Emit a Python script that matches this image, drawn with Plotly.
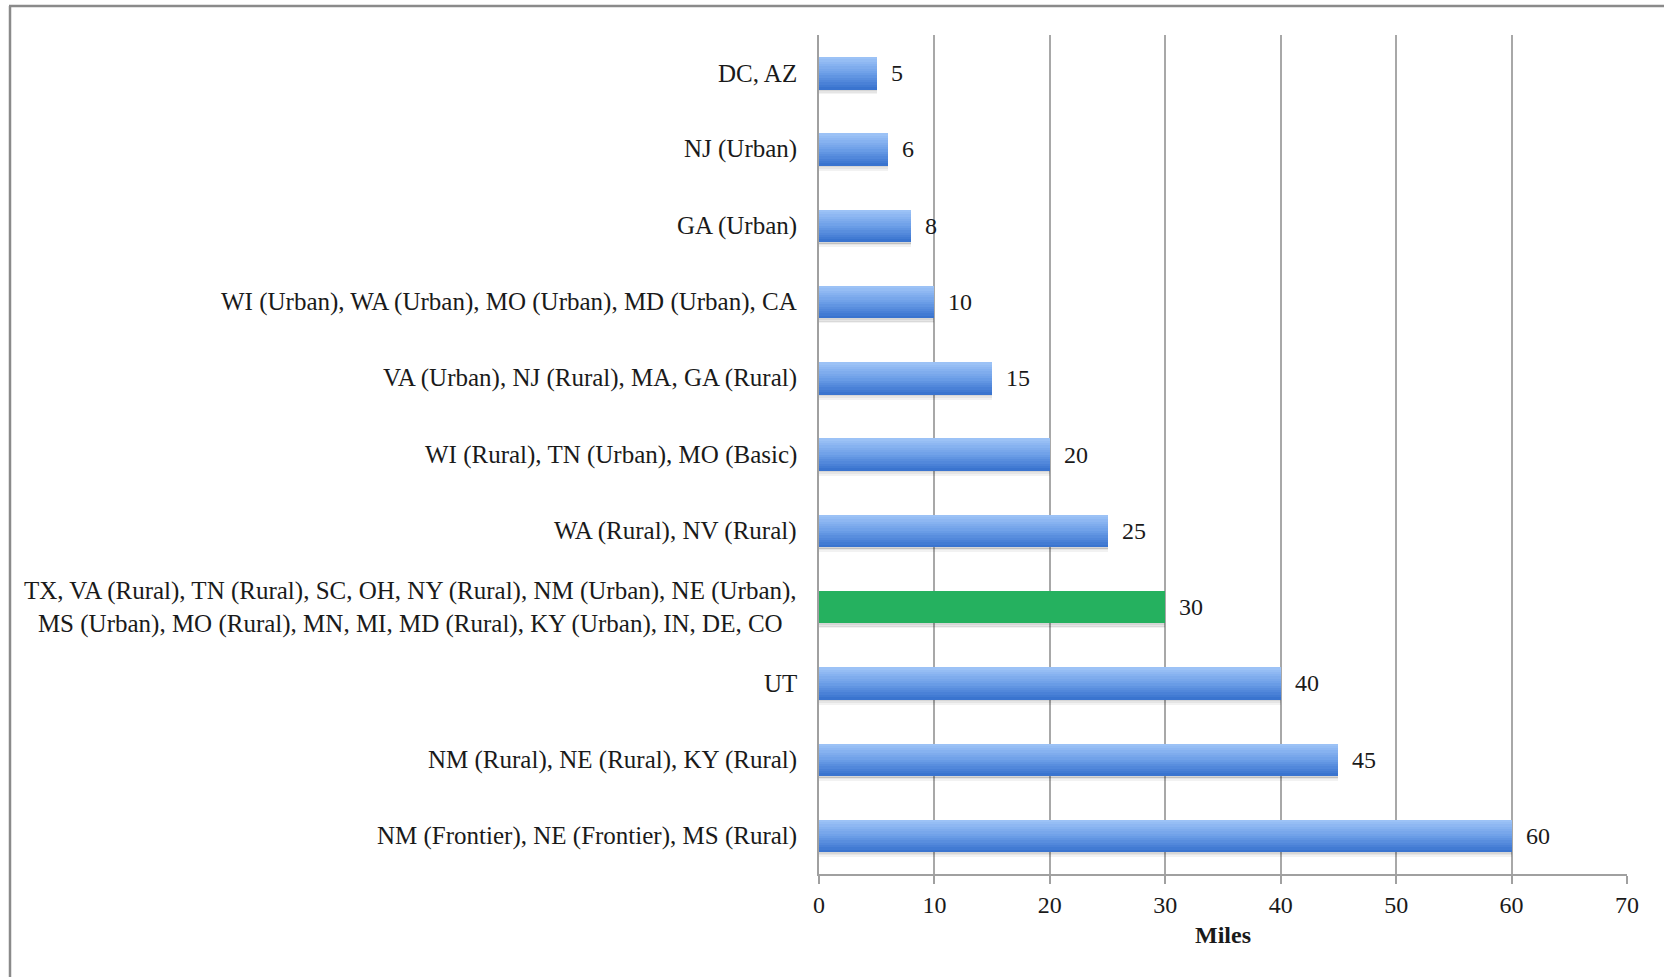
import plotly.graph_objects as go

categories = [
    "DC, AZ",
    "NJ (Urban)",
    "GA (Urban)",
    "WI (Urban), WA (Urban), MO (Urban), MD (Urban), CA",
    "VA (Urban), NJ (Rural), MA, GA (Rural)",
    "WI (Rural), TN (Urban), MO (Basic)",
    "WA (Rural), NV (Rural)",
    "TX, VA (Rural), TN (Rural), SC, OH, NY (Rural), NM (Urban), NE (Urban),<br>MS (Urban), MO (Rural), MN, MI, MD (Rural), KY (Urban), IN, DE, CO",
    "UT",
    "NM (Rural), NE (Rural), KY (Rural)",
    "NM (Frontier), NE (Frontier), MS (Rural)",
]
miles = [5, 6, 8, 10, 15, 20, 25, 30, 40, 45, 60]
highlight = [False, False, False, False, False, False, False, True, False, False, False]
x_ticks = [0, 10, 20, 30, 40, 50, 60, 70]
x_title = "Miles"

W, H = 1664, 977
L, R, T, B = 819, 37, 35, 103
FONT = "Liberation Serif"
FS_CAT = 25
FS = 24
TXT = "#1a1a1a"

def lerp(c1, c2, t):
    return "#%02x%02x%02x" % tuple(round(a + (b - a) * t) for a, b in zip(c1, c2))

blue_top = (0x9c, 0xc2, 0xf6)
blue_mid = (0x6d, 0x9f, 0xe8)
blue_bot = (0x3a, 0x74, 0xcf)
green = "#25b15f"

bar_w = 0.42
n = 14
sw = bar_w / n
yidx = list(range(len(categories)))

fig = go.Figure()

# soft shadow under bars
shadow_alpha = [0.16, 0.10, 0.05]
for j, a in enumerate(shadow_alpha):
    fig.add_trace(go.Bar(
        x=miles, y=yidx, orientation="h",
        width=0.025, offset=bar_w / 2 + j * 0.022,
        marker=dict(color="rgba(0,0,0,%.2f)" % a, line=dict(width=0)),
        hoverinfo="skip", showlegend=False))

# vertical gradient built from thin stacked slices
for k in range(n):
    t = k / (n - 1)
    if t < 0.5:
        c = lerp(blue_top, blue_mid, t / 0.5)
    else:
        c = lerp(blue_mid, blue_bot, (t - 0.5) / 0.5)
    fig.add_trace(go.Bar(
        x=miles, y=yidx, orientation="h",
        width=sw * 1.15, offset=-bar_w / 2 + k * sw,
        marker=dict(color=[green if h else c for h in highlight], line=dict(width=0)),
        hoverinfo="skip", showlegend=False))

annotations = []
for i, (cat, v) in enumerate(zip(categories, miles)):
    annotations.append(dict(
        x=0, y=i, xref="x", yref="y", text=cat, showarrow=False,
        xanchor="right", yanchor="middle", align="center", xshift=-20,
        font=dict(family=FONT, size=FS_CAT, color=TXT)))
    annotations.append(dict(
        x=v, y=i, xref="x", yref="y", text=str(v), showarrow=False,
        xanchor="left", yanchor="middle", xshift=12,
        font=dict(family=FONT, size=FS, color=TXT)))

pw = W - L - R
ph = H - T - B
def px(xp):
    return (xp - L) / pw
def py(yp):
    return 1 - (yp - T) / ph

shapes = [
    dict(type="line", xref="paper", yref="paper", x0=px(10), x1=px(10), y0=py(H + 5), y1=py(6),
         line=dict(color="#8a8a8a", width=2.5)),
    dict(type="line", xref="paper", yref="paper", x0=px(9), x1=px(W + 5), y0=py(6), y1=py(6),
         line=dict(color="#8a8a8a", width=2.5)),
]

fig.update_layout(
    width=W, height=H,
    margin=dict(l=L, r=R, t=T, b=B, pad=0),
    paper_bgcolor="white", plot_bgcolor="white",
    barmode="overlay", bargap=0,
    showlegend=False,
    annotations=annotations,
    shapes=shapes,
    xaxis=dict(
        range=[0, 70], tickvals=x_ticks, ticktext=[str(v) for v in x_ticks],
        showgrid=True, gridcolor="#a8a8a8", gridwidth=1.5,
        showline=True, linecolor="#a0a0a0", linewidth=1.5,
        ticks="outside", ticklen=8, tickcolor="#a0a0a0", tickwidth=1.5,
        zeroline=False,
        tickfont=dict(family=FONT, size=FS, color=TXT),
        title=dict(text="<b>%s</b>" % x_title, standoff=10,
                   font=dict(family=FONT, size=FS, color=TXT)),
        fixedrange=True,
    ),
    yaxis=dict(
        range=[len(categories) - 0.5, -0.5],
        showticklabels=False, showgrid=False, zeroline=False,
        showline=True, linecolor="#a0a0a0", linewidth=1.5,
        ticks="", fixedrange=True,
    ),
)

fig.write_html("out.html")
